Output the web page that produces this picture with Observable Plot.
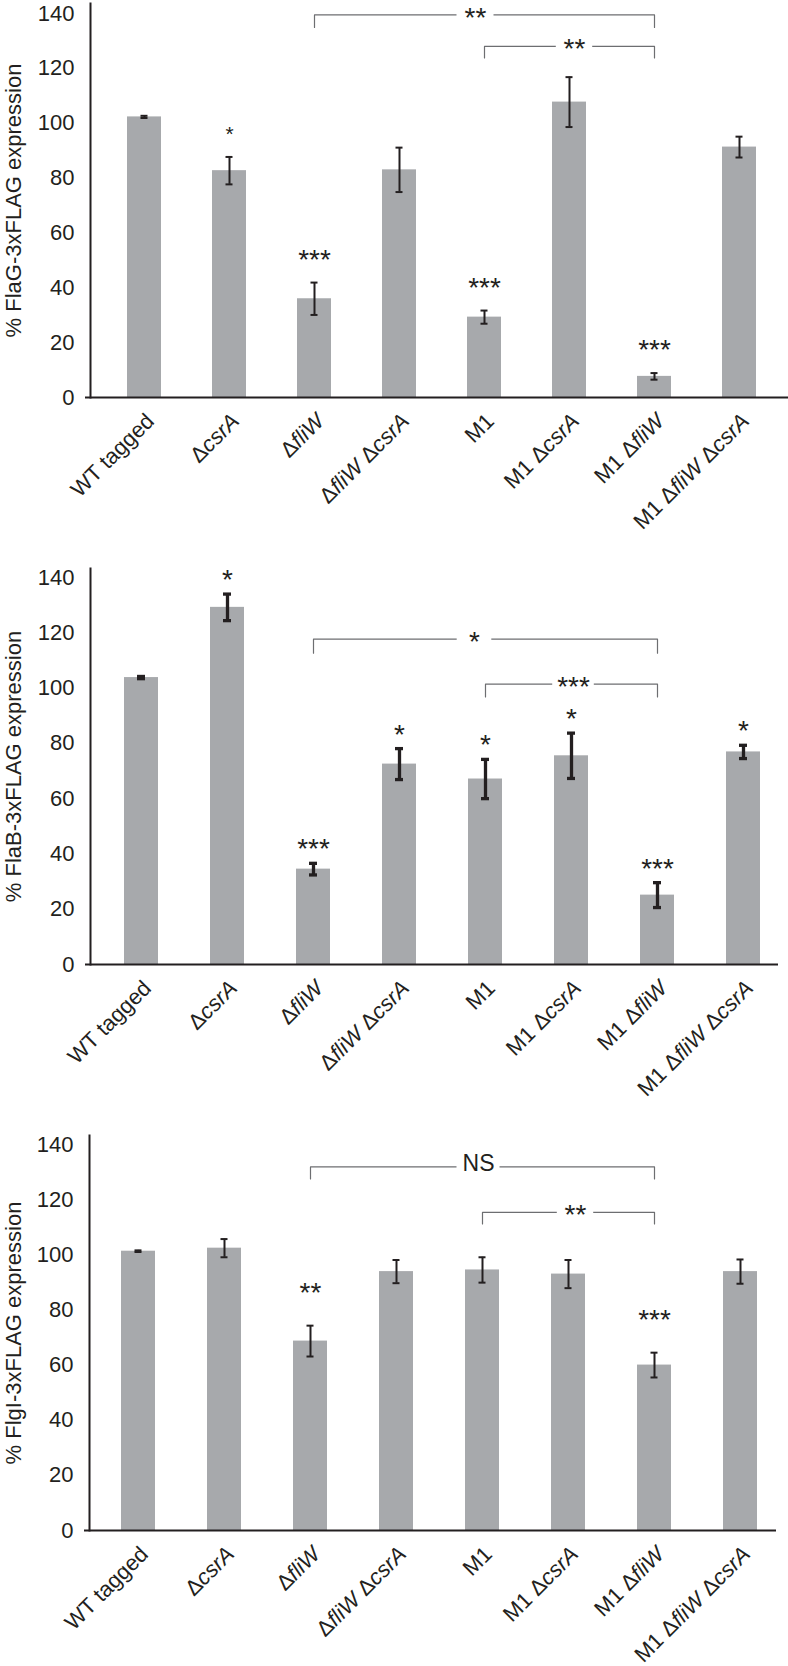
<!DOCTYPE html>
<html>
<head>
<meta charset="utf-8">
<script src="https://cdn.jsdelivr.net/npm/d3@7"></script>
<script src="https://cdn.jsdelivr.net/npm/@observablehq/plot@0.6"></script>
<style>
  html, body { margin: 0; padding: 0; background: #fff; }
  #chart svg { display: block; }
</style>
</head>
<body>
<div id="chart"></div>
<script>
// ---- data ----
const strains = ["WT tagged", "ΔcsrA", "ΔfliW", "ΔfliW ΔcsrA", "M1", "M1 ΔcsrA", "M1 ΔfliW", "M1 ΔfliW ΔcsrA"];
const yTicks = [0, 20, 40, 60, 80, 100, 120, 140];

const flaGValues = [102.3, 82.7, 36.0, 83.0, 29.3, 107.7, 7.7, 91.3];
const flaGErrors = [0.4, 5.0, 5.9, 8.1, 2.4, 9.1, 1.2, 3.8];
const flaGSig    = ["", "*", "***", "", "***", "", "***", ""];
const flaGBrackets = [
  {from: "ΔfliW", to: "M1 ΔfliW", mid: "M1", top: 139.5, leg: 134.9, label: "**"},
  {from: "M1", to: "M1 ΔfliW", mid: "M1 ΔcsrA", top: 128.0, leg: 123.8, label: "**"}
];

const flaBValues = [103.8, 129.2, 34.5, 72.5, 67.1, 75.5, 25.1, 76.9];
const flaBErrors = [0.4, 4.8, 2.1, 5.6, 7.1, 8.2, 4.5, 2.4];
const flaBSig    = ["", "*", "***", "*", "*", "*", "***", "*"];
const flaBBrackets = [
  {from: "ΔfliW", to: "M1 ΔfliW", mid: "M1", top: 117.7, leg: 112.6, label: "*"},
  {from: "M1", to: "M1 ΔfliW", mid: "M1 ΔcsrA", top: 101.4, leg: 96.8, label: "***"}
];

const flgIValues = [101.3, 102.4, 68.7, 93.9, 94.5, 93.0, 60.0, 93.9];
const flgIErrors = [0.3, 3.3, 5.6, 4.2, 4.6, 5.1, 4.5, 4.4];
const flgISig    = ["", "", "**", "", "", "", "***", ""];
const flgIBrackets = [
  {from: "ΔfliW", to: "M1 ΔfliW", mid: "M1", top: 131.9, leg: 127.5, label: "NS"},
  {from: "M1", to: "M1 ΔfliW", mid: "M1 ΔcsrA", top: 115.4, leg: 111.2, label: "**"}
];

// ---- layout / style per panel ----
const panels = [
  {title: "% FlaG-3xFLAG expression", values: flaGValues, errors: flaGErrors, sig: flaGSig, brackets: flaGBrackets,
   height: 563, marginTop: 3, marginBottom: 166, marginLeft: 90, marginRight: 0,
   insetTop: 10, insetLeft: 10.35, insetRight: 5.55, singleStar: 21,
   errWidth: 2, capInset: 13.5, starDy: -23, bracketDx: [-9, 5], gapInset: [-1.5, -1.2], titleDx: -77},
  {title: "% FlaB-3xFLAG expression", values: flaBValues, errors: flaBErrors, sig: flaBSig, brackets: flaBBrackets,
   height: 568, marginTop: 5, marginBottom: 167, marginLeft: 90, marginRight: 10,
   insetTop: 9, insetLeft: 6.45, insetRight: -10.45, singleStar: 28,
   errWidth: 3.3, capInset: 13, starDy: -14, bracketDx: [-11, 2], gapInset: [-0.3, -3.8], titleDx: -77},
  {title: "% FlgI-3xFLAG expression", values: flgIValues, errors: flgIErrors, sig: flgISig, brackets: flgIBrackets,
   height: 535, marginTop: 4, marginBottom: 136, marginLeft: 89, marginRight: 12,
   insetTop: 9, insetLeft: 4.9, insetRight: -7.5, singleStar: 28,
   errWidth: 2, capInset: 13.5, starDy: -33, bracketDx: [-4, 7], gapInset: [-4.5, -1.2], titleDx: -76}
];

const ink = "#231f20";
const barFill = "#a7a9ac";
const bracketStroke = "#6d6e71";
const font = "'Liberation Sans', Arial, Helvetica, sans-serif";

function italicizeGenes(svg) {
  const ns = "http://www.w3.org/2000/svg";
  svg.querySelectorAll('[aria-label="x-axis tick label"] text').forEach(t => {
    const s = t.textContent;
    t.textContent = "";
    s.split(/(csrA|fliW)/).forEach(part => {
      if (!part) return;
      const ts = document.createElementNS(ns, "tspan");
      ts.textContent = part;
      if (/^(csrA|fliW)$/.test(part)) ts.setAttribute("font-style", "italic");
      t.appendChild(ts);
    });
  });
}

const root = document.getElementById("chart");

panels.forEach(p => {
  const rows = strains.map((s, i) => ({strain: s, value: p.values[i], err: p.errors[i], sig: p.sig[i]}));
  const bracketPts = p.brackets.flatMap((b, k) => [
    {id: k, x: b.from, y: b.leg},
    {id: k, x: b.from, y: b.top},
    {id: k, x: b.to, y: b.top},
    {id: k, x: b.to, y: b.leg}
  ]);

  const bracketMarks = p.brackets.flatMap((b, k) => {
    const isStars = /^\*+$/.test(b.label);
    return [
      Plot.tickY([b], {x: "mid", y: "top", stroke: "white", strokeWidth: 5,
        dx: p.bracketDx[k], insetLeft: p.gapInset[k], insetRight: p.gapInset[k]}),
      Plot.text([b], {x: "mid", y: "top", text: "label", dx: p.bracketDx[k],
        dy: isStars ? 3 : -3, fontSize: isStars ? 28 : 23, fill: ink})
    ];
  });

  const svg = Plot.plot({
    width: 788,
    height: p.height,
    marginTop: p.marginTop,
    marginBottom: p.marginBottom,
    marginLeft: p.marginLeft,
    marginRight: p.marginRight,
    style: {fontFamily: font, fontSize: "22px", color: ink, background: "white"},
    x: {domain: strains, paddingInner: 0.6, paddingOuter: 0.3, insetLeft: p.insetLeft, insetRight: p.insetRight},
    y: {domain: [0, 140], insetTop: p.insetTop},
    marks: [
      Plot.barY(rows, {x: "strain", y: "value", fill: barFill}),
      Plot.ruleX(rows, {x: "strain", y1: d => d.value - d.err, y2: d => d.value + d.err, stroke: ink, strokeWidth: p.errWidth}),
      Plot.tickY(rows, {x: "strain", y: d => d.value + d.err, stroke: ink, strokeWidth: p.errWidth, insetLeft: p.capInset, insetRight: p.capInset}),
      Plot.tickY(rows, {x: "strain", y: d => d.value - d.err, stroke: ink, strokeWidth: p.errWidth, insetLeft: p.capInset, insetRight: p.capInset}),
      Plot.line(bracketPts, {x: "x", y: "y", z: "id", stroke: bracketStroke, strokeWidth: 1.2}),
      ...bracketMarks,
      Plot.text(rows, {x: "strain", y: d => d.value + d.err, text: "sig", dy: p.starDy,
        fontSize: d => (d.sig === "*" ? p.singleStar : 28), fill: ink}),
      Plot.ruleY([0], {stroke: ink, strokeWidth: 2, insetLeft: -5}),
      Plot.frame({anchor: "left", stroke: ink, strokeWidth: 2}),
      Plot.axisY({ticks: yTicks, tickSize: 0, tickPadding: 16, label: null, fontSize: 22}),
      Plot.axisX({tickRotate: -45, tickSize: 0, tickPadding: 20, dx: 6, label: null, fontSize: 22}),
      Plot.text([p.title], {text: d => d, frameAnchor: "left", textAnchor: "middle", rotate: -90,
        dx: p.titleDx, fontSize: 22, fill: ink})
    ]
  });
  italicizeGenes(svg);
  root.appendChild(svg);
});
</script>
</body>
</html>
